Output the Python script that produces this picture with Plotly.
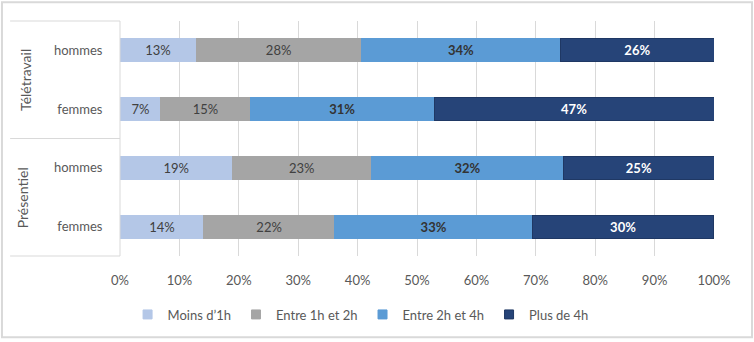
import plotly.graph_objects as go

# Data
rows = ["Télétravail|hommes", "Télétravail|femmes", "Présentiel|hommes", "Présentiel|femmes"]
row_labels = ["hommes", "femmes", "hommes", "femmes"]
groups = ["Télétravail", "Présentiel"]
series_names = ["Moins d’1h", "Entre 1h et 2h", "Entre 2h et 4h", "Plus de 4h"]
moins_1h = [12.8, 6.9, 18.9, 14.1]
entre_1h_2h = [27.8, 15.0, 23.4, 22.0]
entre_2h_4h = [33.6, 31.0, 32.4, 33.4]
plus_4h = [25.8, 47.1, 25.3, 30.4]
x_ticks = [0, 10, 20, 30, 40, 50, 60, 70, 80, 90, 100]

FONT = "Lato"
colors = ["#B4C7E7", "#A5A5A5", "#5B9BD5", "#264478"]
text_colors = ["#404040", "#404040", "#333333", "#FFFFFF"]
bold = [False, False, True, True]
line_colors = ["#B4C7E7", "#A5A5A5", "#5B9BD5", "#1F3864"]

fig = go.Figure()
for name, vals, c, tc, b, lc in zip(series_names, [moins_1h, entre_1h_2h, entre_2h_4h, plus_4h],
                                     colors, text_colors, bold, line_colors):
    tmpl = "<b>%{x:.0f}%</b>" if b else "%{x:.0f}%"
    fig.add_trace(go.Bar(
        y=rows, x=vals, name=name, orientation="h",
        marker=dict(color=c, line=dict(color=lc, width=1)),
        texttemplate=tmpl, textposition="inside", insidetextanchor="middle",
        textfont=dict(color=tc, size=13, family=FONT),
        constraintext="none", showlegend=False, legendgroup=name,
    ))

# legend entries with small square keys
for name, c, lc in zip(series_names, colors, line_colors):
    fig.add_trace(go.Scatter(
        x=[None], y=[None], mode="markers", name=name, legendgroup=name,
        marker=dict(symbol="square", size=9, color=c, line=dict(color=lc, width=1)),
        showlegend=True, hoverinfo="skip",
    ))

shape_col = "#D9D9D9"
shapes = [
    dict(type="rect", xref="paper", yref="paper", x0=-0.1987, x1=1.064, y0=-0.346, y1=1.080,
         line=dict(color="#D9D9D9", width=2), layer="below"),
    dict(type="line", xref="paper", yref="paper", x0=-0.185, x1=0, y0=1, y1=1,
         line=dict(color=shape_col, width=1)),
    dict(type="line", xref="paper", yref="paper", x0=-0.185, x1=0, y0=0.5, y1=0.5,
         line=dict(color=shape_col, width=1)),
    dict(type="line", xref="paper", yref="paper", x0=-0.185, x1=0, y0=0, y1=0,
         line=dict(color=shape_col, width=1)),
    dict(type="line", xref="paper", yref="paper", x0=0, x1=0, y0=0, y1=1,
         line=dict(color=shape_col, width=1)),
]

annotations = [
    dict(text=groups[0], xref="paper", yref="paper", x=-0.158, y=0.75, textangle=-90,
         showarrow=False, font=dict(size=14, color="#595959", family=FONT),
         xanchor="center", yanchor="middle"),
    dict(text=groups[1], xref="paper", yref="paper", x=-0.165, y=0.25, textangle=-90,
         showarrow=False, font=dict(size=14, color="#595959", family=FONT),
         xanchor="center", yanchor="middle"),
]

fig.update_layout(
    width=754, height=342,
    margin=dict(l=120, r=40, t=21, b=84),
    barmode="stack", bargap=0.61,
    plot_bgcolor="white", paper_bgcolor="white",
    font=dict(family=FONT, size=13, color="#595959"),
    showlegend=True,
    legend=dict(orientation="h", x=0.405, xanchor="center", y=-0.185, yanchor="top",
                font=dict(size=13, color="#595959", family=FONT), traceorder="normal",
                itemwidth=30, tracegroupgap=0),
    xaxis=dict(range=[0, 100], tickvals=x_ticks, ticktext=[f"{v}%" for v in x_ticks],
               showgrid=True, gridcolor="#D9D9D9", gridwidth=1, zeroline=False,
               ticks="outside", ticklen=12, tickcolor="rgba(0,0,0,0)",
               tickfont=dict(size=13, color="#595959", family=FONT), fixedrange=True),
    yaxis=dict(categoryorder="array", categoryarray=rows, autorange="reversed",
               tickvals=rows, ticktext=row_labels, showgrid=False,
               ticks="outside", ticklen=14, tickcolor="rgba(0,0,0,0)",
               tickfont=dict(size=13, color="#595959", family=FONT)),
    shapes=shapes, annotations=annotations,
)

fig.write_html("out.html")
